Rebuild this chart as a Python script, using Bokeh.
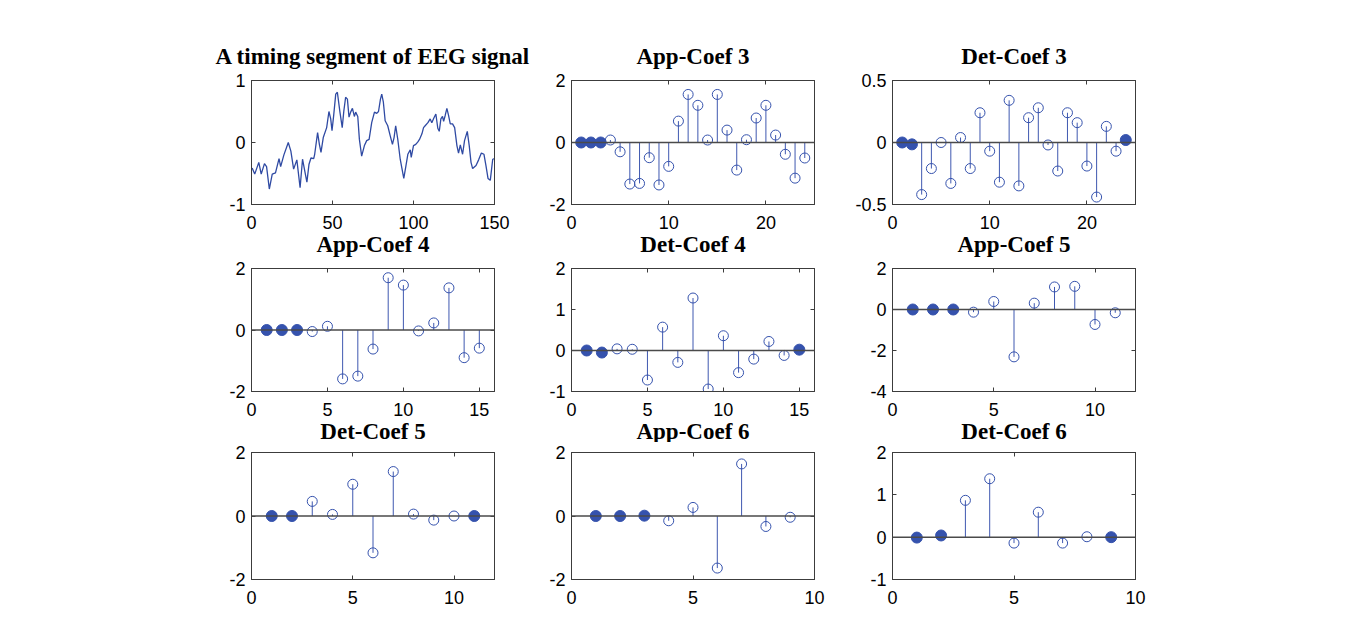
from bokeh.plotting import figure
from bokeh.layouts import column, row
from bokeh.models import (FixedTicker, LinearAxis, Span, Range1d, NumeralTickFormatter, Title)
from bokeh.embed import file_html
from bokeh.resources import INLINE

# ---------------- data ----------------
eeg_t = [0.4, 2, 4.5, 6, 8, 9.3, 11, 12.8, 14.8, 17, 18, 20, 22.7, 24.3, 26, 28, 30, 31.5, 32.6,
         34.2, 35.5, 36.7, 38.4, 39, 40.8, 41.9, 42.9, 44.3, 46.4, 47.8, 48.9, 49.7, 50.7, 52, 53,
         54.6, 56, 57, 58.1, 59.2, 60.2, 61.2, 62.3, 63.5, 64.3, 65.6, 66.6, 68, 69.7, 71.1, 72.6,
         74.2, 75.9, 77.3, 78.4, 79.6, 80.4, 81.4, 82.5, 84.1, 85.6, 87, 88, 89, 90.3, 91.8, 92.8,
         94, 95.3, 96.5, 98, 98.6, 100, 101.4, 102.7, 103.7, 105.2, 106.2, 107.2, 108.9, 110.3,
         111.3, 112.5, 113.8, 115, 115.9, 116.9, 117.9, 118.6, 119.6, 120.6, 121.6, 122.7, 124.1,
         125.4, 126.8, 127.8, 128.9, 130.3, 131.5, 133.2, 134.4, 135.5, 136.5, 138.6, 140.2,
         141.9, 143.5, 144.7, 146, 147.4, 148.9, 150]
eeg_v = [-0.41, -0.51, -0.32, -0.51, -0.34, -0.39, -0.75, -0.51, -0.49, -0.26, -0.39, -0.20, 0.0,
         -0.14, -0.43, -0.28, -0.73, -0.27, -0.42, -0.64, -0.35, -0.25, -0.26, -0.19, 0.16, -0.03,
         -0.16, 0.08, 0.24, 0.50, 0.38, 0.19, 0.43, 0.78, 0.81, 0.49, 0.24, 0.51, 0.73, 0.70, 0.41,
         0.49, 0.55, 0.42, 0.49, 0.42, 0.05, -0.22, -0.05, 0.03, 0.05, 0.32, 0.49, 0.47, 0.50, 0.70,
         0.78, 0.65, 0.35, 0.27, 0.11, -0.03, 0.08, 0.27, 0.05, -0.27, -0.41, -0.58, -0.38, -0.19,
         -0.12, -0.24, -0.05, -0.03, 0.01, 0.05, 0.14, 0.24, 0.27, 0.32, 0.38, 0.32, 0.39, 0.46,
         0.23, 0.18, 0.38, 0.42, 0.34, 0.44, 0.55, 0.44, 0.30, 0.30, 0.24, -0.05, -0.17, -0.04,
         -0.19, 0.03, 0.18, -0.05, -0.32, -0.42, -0.37, -0.28, -0.17, -0.19, -0.37, -0.58, -0.61,
         -0.27, -0.26]

app3 = [0, 0, 0, 0.08, -0.30, -1.34, -1.32, -0.49, -1.37, -0.77, 0.69, 1.55, 1.20, 0.08, 1.55,
        0.40, -0.89, 0.09, 0.79, 1.20, 0.24, -0.38, -1.15, -0.50]
app3_filled = [1, 2, 3]
det3 = [0.0, -0.015, -0.42, -0.21, 0.0, -0.33, 0.04, -0.21, 0.24, -0.07, -0.32, 0.34, -0.35,
        0.20, 0.28, -0.02, -0.23, 0.24, 0.16, -0.19, -0.44, 0.13, -0.07, 0.02]
det3_filled = [1, 2, 24]
app4 = [0, 0, 0, -0.05, 0.12, -1.59, -1.50, -0.62, 1.70, 1.46, -0.03, 0.23, 1.37, -0.90, -0.59]
app4_filled = [1, 2, 3]
det4 = [0, -0.05, 0.04, 0.03, -0.72, 0.57, -0.29, 1.28, -0.94, 0.36, -0.54, -0.21, 0.22,
        -0.12, 0.02]
det4_filled = [1, 2, 15]
app5 = [0, 0, 0, -0.13, 0.39, -2.31, 0.31, 1.10, 1.13, -0.73, -0.16]
app5_filled = [1, 2, 3]
det5 = [0, 0, 0.46, 0.05, 1.00, -1.16, 1.40, 0.06, -0.13, 0.0, 0]
det5_filled = [1, 2, 11]
app6 = [0, 0, 0.01, -0.15, 0.27, -1.64, 1.64, -0.33, -0.04]
app6_filled = [1, 2, 3]
det6 = [-0.01, 0.04, 0.87, 1.38, -0.14, 0.59, -0.14, 0.01, 0.0]
det6_filled = [1, 2, 9]

titles = ["A timing segment of EEG signal", "App-Coef 3", "Det-Coef 3",
          "App-Coef 4", "Det-Coef 4", "App-Coef 5",
          "Det-Coef 5", "App-Coef 6", "Det-Coef 6"]
x_max = [150, 25, 25, 16, 16, 12, 12, 10, 10]
y_lim = [(-1, 1), (-2, 2), (-0.5, 0.5), (-2, 2), (-1, 2), (-4, 2), (-2, 2), (-2, 2), (-1, 2)]
x_ticks = [[0, 50, 100, 150], [0, 10, 20], [0, 10, 20], [0, 5, 10, 15], [0, 5, 10, 15],
           [0, 5, 10], [0, 5, 10], [0, 5, 10], [0, 5, 10]]
y_ticks = [[-1, 0, 1], [-2, 0, 2], [-0.5, 0, 0.5], [-2, 0, 2], [-1, 0, 1, 2], [-4, -2, 0, 2],
           [-2, 0, 2], [-2, 0, 2], [-1, 0, 1, 2]]
stem_series = [None, (app3, app3_filled), (det3, det3_filled), (app4, app4_filled),
               (det4, det4_filled), (app5, app5_filled), (det5, det5_filled),
               (app6, app6_filled), (det6, det6_filled)]

# ---------------- style / geometry ----------------
FW = 243
col_lr = [(251, 45), (32, 20), (58, 25)]
# top border, frame height, bottom border, standoff of the title drawn under this row
row_geo = [(80, 124, 53, -4), (11, 123, 51, -4), (10, 127, 35, 0)]
TOP_TITLE_STANDOFF = 24
LINE_BLUE = "#2f4aa3"
STEM_BLUE = "#3f58b0"
MARK_BLUE = "#3552ad"
FRAME = "#3c3c3c"
TICK_FONT = "Liberation Sans"
TITLE_FONT = "Liberation Serif"


def style_title(t, standoff):
    t.align = "center"
    t.text_font = TITLE_FONT
    t.text_font_style = "bold"
    t.text_font_size = "23px"
    t.text_color = "black"
    t.standoff = standoff


def style_axis(ax, ticks, show_labels=True):
    ax.ticker = FixedTicker(ticks=ticks)
    ax.formatter = NumeralTickFormatter(format="0.[0]")
    ax.major_tick_in = 4
    ax.major_tick_out = 0
    ax.minor_tick_line_color = None
    ax.major_tick_line_color = FRAME
    ax.axis_line_color = FRAME
    if show_labels:
        ax.major_label_text_font = TICK_FONT
        ax.major_label_text_font_size = "18px"
        ax.major_label_text_color = "black"
    else:
        ax.major_label_text_font_size = "1px"
        ax.major_label_text_color = None
        ax.major_label_standoff = 0


rows = []
for r in range(3):
    top, fh, bottom, below_standoff = row_geo[r]
    figs = []
    for c in range(3):
        i = r * 3 + c
        L, R = col_lr[c]
        p = figure(width=L + FW + R, height=top + fh + bottom, output_backend="svg",
                   toolbar_location=None, x_range=Range1d(0, x_max[i]),
                   y_range=Range1d(*y_lim[i]), min_border_left=L, min_border_right=R,
                   min_border_top=top, min_border_bottom=bottom,
                   title=titles[i] if r == 0 else None)
        if r == 0:
            style_title(p.title, TOP_TITLE_STANDOFF)
        p.grid.visible = False
        p.outline_line_color = FRAME
        p.outline_line_width = 1
        p.background_fill_color = "white"
        p.border_fill_color = "white"
        style_axis(p.xaxis[0], x_ticks[i])
        p.xaxis[0].major_label_standoff = 11
        style_axis(p.yaxis[0], y_ticks[i])
        p.yaxis[0].major_label_standoff = 6
        ra = LinearAxis()
        style_axis(ra, y_ticks[i], show_labels=False)
        p.add_layout(ra, "right")
        ta = LinearAxis()
        style_axis(ta, x_ticks[i], show_labels=False)
        p.add_layout(ta, "above")
        if r < 2:
            # title of the panel underneath, laid out below this panel's tick labels
            bt = Title(text=titles[i + 3])
            style_title(bt, below_standoff)
            p.add_layout(bt, "below")

        if stem_series[i] is None:
            p.line(eeg_t, eeg_v, line_color=LINE_BLUE, line_width=1.3)
        else:
            vals, filled = stem_series[i]
            xs = list(range(1, len(vals) + 1))
            p.add_layout(Span(location=0, dimension="width", line_color="#4a4a4a",
                              line_width=1.5))
            p.segment(x0=xs, y0=[0] * len(xs), x1=xs, y1=vals, line_color=STEM_BLUE,
                      line_width=1)
            ox = [x for x in xs if x not in filled]
            oy = [vals[x - 1] for x in ox]
            fx = [x for x in xs if x in filled]
            fy = [vals[x - 1] for x in fx]
            p.scatter(ox, oy, marker="circle", size=10, fill_color=None,
                      line_color=MARK_BLUE, line_width=1)
            p.scatter(fx, fy, marker="circle", size=11, fill_color=MARK_BLUE,
                      line_color=MARK_BLUE, line_width=1)
        figs.append(p)
    rows.append(row(*figs, spacing=0))

layout = column(*rows, spacing=0)
open("out.html", "w").write(file_html(layout, INLINE))
